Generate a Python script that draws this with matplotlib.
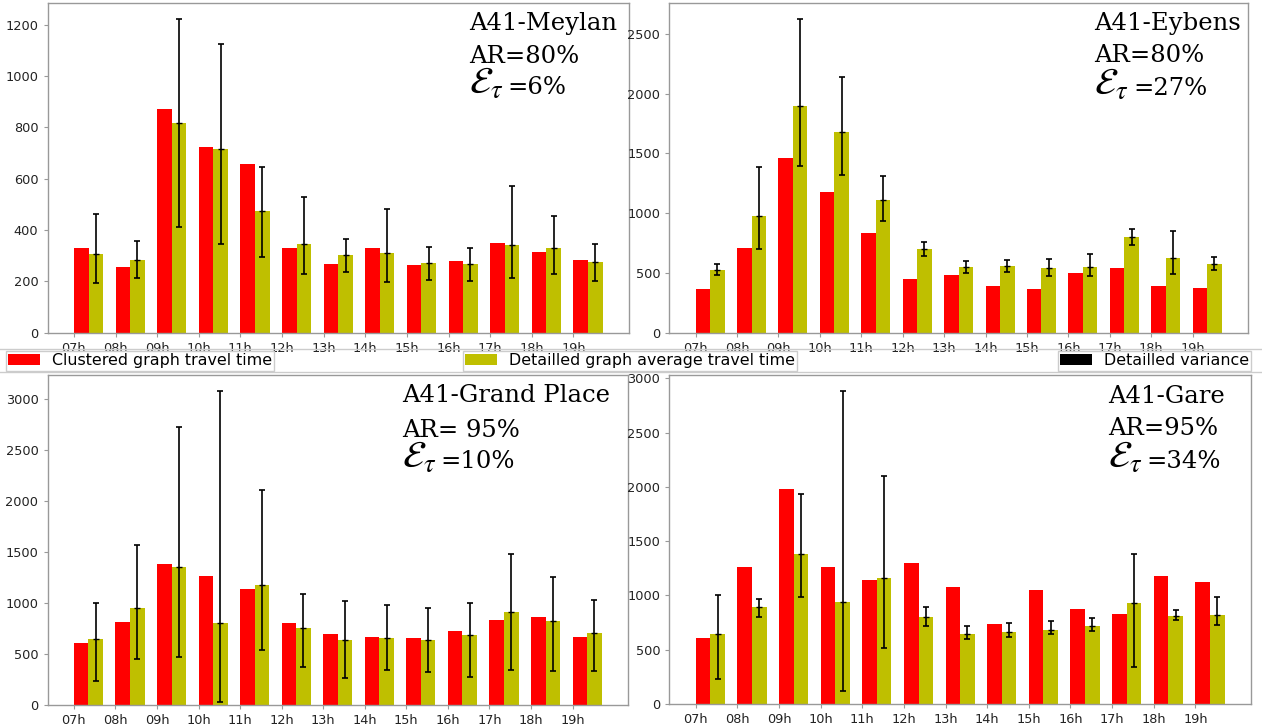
import matplotlib
matplotlib.use('Agg')
import matplotlib.pyplot as plt
import numpy as np
from matplotlib.patches import Patch
from matplotlib.lines import Line2D

plt.rcParams['mathtext.fontset'] = 'stix'

hours = ['07h', '08h', '09h', '10h', '11h', '12h', '13h', '14h', '15h', '16h', '17h', '18h', '19h']

# A41-Meylan
meylan_clustered = [330, 254, 870, 724, 659, 331, 268, 330, 265, 278, 350, 316, 285]
meylan_detailed = [307, 285, 816, 715, 474, 346, 304, 311, 273, 269, 342, 330, 276]
meylan_err_low = [195, 212, 413, 347, 294, 230, 238, 197, 207, 203, 212, 227, 202]
meylan_err_high = [461, 356, 1223, 1125, 645, 528, 366, 483, 335, 331, 573, 456, 347]

# A41-Eybens
eybens_clustered = [362, 712, 1460, 1174, 834, 448, 484, 389, 364, 500, 542, 392, 375]
eybens_detailed = [528, 976, 1899, 1682, 1112, 701, 548, 556, 545, 553, 801, 628, 576]
eybens_err_low = [484, 701, 1393, 1324, 937, 645, 503, 509, 476, 478, 737, 492, 523]
eybens_err_high = [578, 1388, 2628, 2141, 1313, 756, 598, 606, 615, 656, 868, 851, 634]

# A41-Grand Place
grand_clustered = [601, 810, 1378, 1263, 1136, 797, 689, 659, 653, 718, 829, 862, 666]
grand_detailed = [640, 947, 1348, 797, 1169, 754, 633, 650, 633, 679, 911, 823, 699]
grand_err_low = [232, 447, 467, 23, 532, 366, 261, 343, 320, 274, 343, 330, 326]
grand_err_high = [999, 1570, 2729, 3082, 2109, 1087, 1018, 973, 947, 992, 1482, 1254, 1025]

# A41-Gare
gare_clustered = [606, 1263, 1985, 1260, 1138, 1297, 1080, 737, 1046, 872, 829, 1180, 1128]
gare_detailed = [648, 893, 1379, 942, 1159, 798, 645, 664, 685, 719, 930, 807, 817]
gare_err_low = [229, 801, 985, 122, 520, 722, 602, 621, 642, 670, 343, 774, 725]
gare_err_high = [1000, 972, 1936, 2887, 2104, 896, 722, 746, 768, 795, 1382, 862, 988]

titles = ['A41-Meylan', 'A41-Eybens', 'A41-Grand Place', 'A41-Gare']
ar_labels = ['AR=80%', 'AR=80%', 'AR= 95%', 'AR=95%']
eps_labels = ['=6%', '=27%', '=10%', '=34%']

legend_labels = ['Clustered graph travel time', 'Detailled graph average travel time', 'Detailled variance']

RED = '#ff0000'
OLIVE = '#bfbf00'
SPINE = '#999999'

W, H = 1262, 724
fig = plt.figure(figsize=(W / 100, H / 100), dpi=100)


def px_rect(left, right, top, bottom):
    return [left / W, 1 - bottom / H, (right - left) / W, (bottom - top) / H]


rects = [px_rect(47.5, 629, 3, 332.7),
         px_rect(669.3, 1248, 3, 332.7),
         px_rect(47.5, 628, 375, 704.5),
         px_rect(669.3, 1251, 375, 704)]

datasets = [(meylan_clustered, meylan_detailed, meylan_err_low, meylan_err_high),
            (eybens_clustered, eybens_detailed, eybens_err_low, eybens_err_high),
            (grand_clustered, grand_detailed, grand_err_low, grand_err_high),
            (gare_clustered, gare_detailed, gare_err_low, gare_err_high)]

# left x, baselines of the three lines, x where "=.." starts
text_pos = [(469, 30, 63, 94, 507), (1094, 30, 62, 95, 1133),
            (402, 402, 437, 468, 440), (1108, 403, 435, 468, 1146)]

w = 0.35
x = np.arange(len(hours))
for rect, (cl, de, lo, hi), title, ar, eps, (tx, y1, y2, y3, ex) in zip(
        rects, datasets, titles, ar_labels, eps_labels, text_pos):
    ax = fig.add_axes(rect)
    ax.bar(x, cl, w, align='edge', color=RED)
    ax.bar(x + w, de, w, align='edge', color=OLIVE)
    de_a = np.array(de)
    yerr = [de_a - np.array(lo), np.array(hi) - de_a]
    ax.errorbar(x + 1.5 * w, de_a, yerr=yerr, fmt='_', color='k', ms=4,
                ecolor='k', elinewidth=1.2, capsize=2.2, capthick=1.2)
    ax.set_xticks(x)
    ax.set_xticklabels(hours)
    ax.tick_params(labelsize=9.3, length=3, width=0.8, colors=SPINE, labelcolor='#222222')
    for s in ax.spines.values():
        s.set_color(SPINE)
        s.set_linewidth(1.0)
    fs = 17.5
    fig.text(tx / W, 1 - y1 / H, title, fontsize=fs, family='DejaVu Serif', va='baseline', ha='left')
    fig.text(tx / W, 1 - y2 / H, ar, fontsize=fs, family='DejaVu Serif', va='baseline', ha='left')
    fig.text(tx / W, 1 - y3 / H, r'$\mathcal{E}_{\tau}$', fontsize=27,
             va='baseline', ha='left')
    fig.text(ex / W, 1 - y3 / H, eps, fontsize=fs, family='DejaVu Serif', va='baseline', ha='left')

# separator lines of the legend row
fig.add_artist(Line2D([0, 1], [1 - 349.3 / H, 1 - 349.3 / H], color='#cccccc', lw=1, transform=fig.transFigure))
fig.add_artist(Line2D([0, 1], [1 - 372.5 / H, 1 - 372.5 / H], color='#cccccc', lw=1, transform=fig.transFigure))

handles = [Patch(facecolor=RED), Patch(facecolor=OLIVE), Patch(facecolor='black')]
leg_pos = [(6, 0.15), (462.7, 0.15), (1058, 0.15)]
for h, lab, (lx, bp) in zip(handles, legend_labels, leg_pos):
    fig.legend([h], [lab], loc='center left', bbox_to_anchor=(lx / W, 1 - 361 / H),
               borderaxespad=0, borderpad=bp, handletextpad=0.75, handlelength=2.0,
               handleheight=0.7, fontsize=11.4, fancybox=False, framealpha=1,
               edgecolor='#cccccc')

fig.savefig('out.png', dpi=100)
